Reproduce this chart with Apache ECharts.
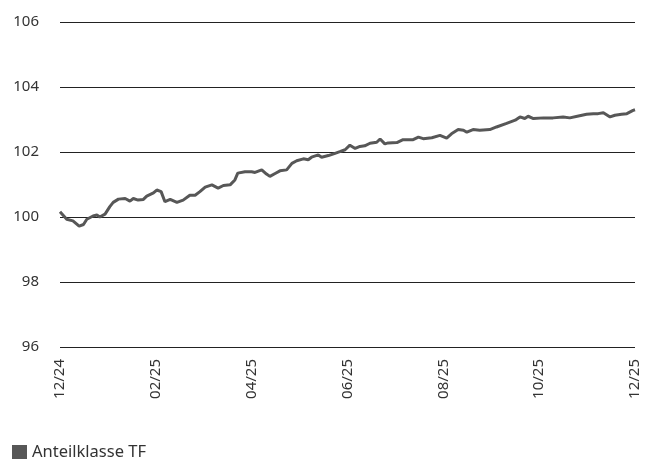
<!DOCTYPE html>
<html>
<head>
<meta charset="utf-8">
<script src="https://cdn.jsdelivr.net/npm/echarts@6/dist/echarts.min.js"></script>
<style>
  html, body { margin: 0; padding: 0; background: #fff; }
  #chart { width: 651px; height: 459px; }
</style>
</head>
<body>
<div id="chart"></div>
<script>
// x position in months since end of 12/24
const months = [0, 0.14, 0.27, 0.40, 0.49, 0.56, 0.69, 0.77, 0.83, 0.94, 1.04, 1.11, 1.22, 1.36, 1.46, 1.53, 1.63, 1.74, 1.81, 1.95,
  2.02, 2.11, 2.19, 2.30, 2.44, 2.57, 2.71, 2.82, 2.92, 3.03, 3.17, 3.30, 3.41, 3.55, 3.65, 3.71, 3.86, 4.00, 4.07, 4.21,
  4.31, 4.38, 4.49, 4.59, 4.63, 4.73, 4.84, 4.94, 5.08, 5.18, 5.25, 5.39, 5.46, 5.60, 5.74, 5.84, 5.95, 6.05, 6.16, 6.26,
  6.36, 6.47, 6.61, 6.68, 6.78, 6.85, 7.03, 7.16, 7.37, 7.48, 7.58, 7.76, 7.93, 8.07, 8.17, 8.31, 8.42, 8.49, 8.62, 8.76,
  8.97, 9.11, 9.32, 9.50, 9.60, 9.70, 9.77, 9.88, 10.09, 10.29, 10.50, 10.64, 10.82, 10.99, 11.13, 11.23, 11.34, 11.48, 11.58, 11.72,
  11.83, 11.96, 12.0];
const values = [100.16, 99.93, 99.88, 99.72, 99.77, 99.93, 100.03, 100.06, 100.00, 100.09, 100.32, 100.45, 100.55, 100.57, 100.49, 100.57, 100.52, 100.54, 100.64, 100.74,
  100.83, 100.78, 100.47, 100.54, 100.45, 100.52, 100.67, 100.67, 100.78, 100.92, 100.99, 100.89, 100.97, 100.99, 101.14, 101.35, 101.39, 101.39, 101.37, 101.45,
  101.32, 101.25, 101.34, 101.42, 101.37, 101.45, 101.65, 101.73, 101.79, 101.76, 101.84, 101.91, 101.84, 101.89, 101.96, 102.01, 102.07, 102.21, 102.11, 102.17,
  102.19, 102.27, 102.30, 102.40, 102.25, 102.28, 102.29, 102.38, 102.38, 102.46, 102.41, 102.44, 102.51, 102.43, 102.56, 102.69, 102.67, 102.61, 102.69, 102.67,
  102.69, 102.77, 102.88, 102.98, 103.08, 103.03, 103.10, 103.03, 103.05, 103.05, 103.08, 103.05, 103.11, 103.16, 103.18, 103.18, 103.21, 103.08, 103.13, 103.16,
  103.18, 103.28, 103.30];
const xTickLabels = ['12/24', '02/25', '04/25', '06/25', '08/25', '10/25', '12/25'];
const seriesName = 'Anteilklasse TF';

const chart = echarts.init(document.getElementById('chart'), null, { renderer: 'canvas' });
const font = "'Noto Sans', 'Open Sans', sans-serif";
chart.setOption({
  animation: false,
  backgroundColor: '#ffffff',
  grid: { left: 60, right: 16, top: 22, bottom: 112, containLabel: false },
  legend: {
    show: true,
    left: 12,
    top: 444,
    padding: 0,
    itemWidth: 15,
    itemHeight: 15,
    itemGap: 6,
    icon: 'rect',
    textStyle: { fontFamily: font, fontSize: 16.5, color: '#333333', padding: [0, 0, 0, 0] },
    data: [{ name: seriesName, icon: 'rect', itemStyle: { color: '#575757' } }]
  },
  xAxis: {
    type: 'value',
    min: 0,
    max: 12,
    interval: 2,
    axisLine: { show: false },
    axisTick: { show: false },
    splitLine: { show: false },
    axisLabel: {
      rotate: 90,
      margin: 12,
      fontFamily: font,
      fontSize: 15,
      color: '#333333',
      formatter: function (v) { return xTickLabels[Math.round(v / 2)] || ''; }
    }
  },
  yAxis: {
    type: 'value',
    min: 96,
    max: 106,
    interval: 2,
    axisLine: { show: false },
    axisTick: { show: false },
    splitLine: { show: true, lineStyle: { color: '#222222', width: 1.2 } },
    axisLabel: { margin: 21, fontFamily: font, fontSize: 15, color: '#333333' }
  },
  series: [{
    name: seriesName,
    type: 'line',
    data: months.map((m, i) => [m, values[i]]),
    showSymbol: false,
    symbol: 'none',
    lineStyle: { color: '#575757', width: 3 },
    itemStyle: { color: '#575757' }
  }]
});
</script>
</body>
</html>
